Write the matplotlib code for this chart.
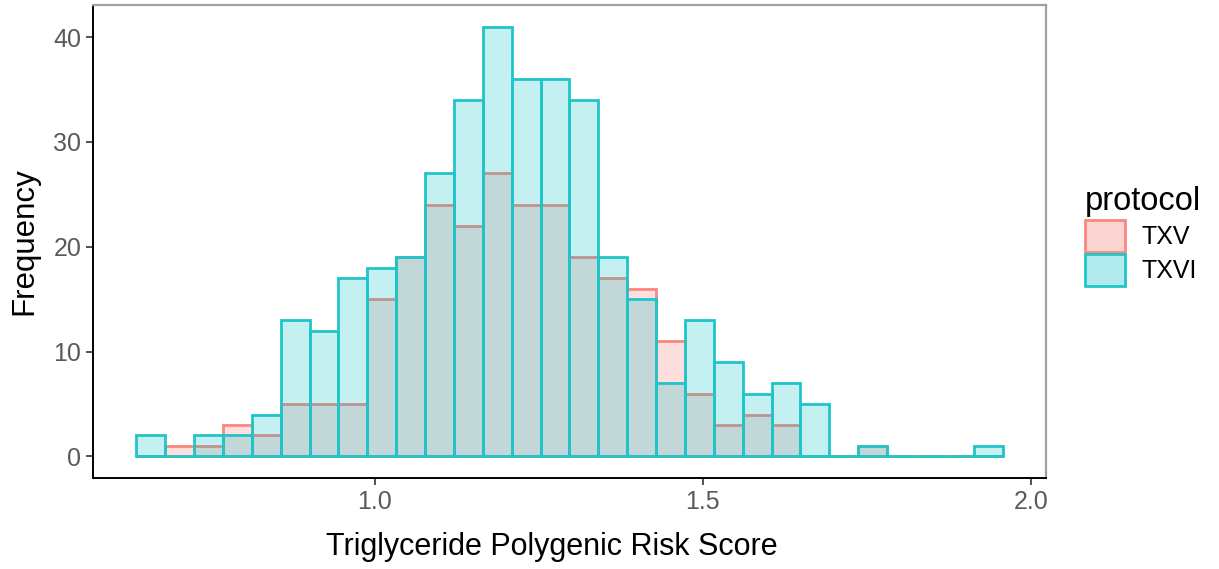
import matplotlib.pyplot as plt
import numpy as np
from matplotlib.patches import Patch
from matplotlib.colors import to_rgba

plt.rcParams['font.family'] = ['Liberation Sans', 'DejaVu Sans']

# histogram bins (30 bins, ggplot default)
bin_start = 0.637
bin_width = 0.044
txv_counts = [0, 1, 1, 3, 2, 5, 5, 5, 15, 19, 24, 22, 27, 24, 24, 19, 17, 16,
              11, 6, 3, 4, 3, 0, 0, 1, 0, 0, 0, 0]
txvi_counts = [2, 0, 2, 2, 4, 13, 12, 17, 18, 19, 27, 34, 41, 36, 36, 34, 19, 15,
               7, 13, 9, 6, 7, 5, 0, 1, 0, 0, 0, 1]
groups = ['TXV', 'TXVI']
colors = ['#F8766D', '#00BFC4']
edge_colors = ['#F98880', '#1FC5C9']
xticks = [1.0, 1.5, 2.0]
yticks = [0, 10, 20, 30, 40]

n_bins = len(txv_counts)
centers = bin_start + bin_width * (np.arange(n_bins) + 0.5)

fig = plt.figure(figsize=(12.19, 5.69), dpi=100)
ax = fig.add_axes([0.0763, 0.160, 0.7817, 0.831])

for counts, col, ec in zip([txv_counts, txvi_counts], colors, edge_colors):
    ax.bar(centers, counts, width=bin_width, facecolor=to_rgba(col, 0.23),
           edgecolor=ec, linewidth=2.0)

lo = bin_start
hi = bin_start + bin_width * n_bins
pad = (hi - lo) * 0.05
ax.set_xlim(lo - pad, hi + pad)
top = max(max(txv_counts), max(txvi_counts))
ax.set_ylim(-top * 0.05, top * 1.05)

ax.set_xticks(xticks)
ax.set_xticklabels([f'{t:.1f}' for t in xticks])
ax.set_yticks(yticks)
ax.tick_params(axis='both', labelsize=18, labelcolor='#5A5A5A', color='#333333',
               length=5, width=1.2)
ax.set_xlabel('Triglyceride Polygenic Risk Score', fontsize=22)
ax.xaxis.set_label_coords(0.482, -0.115)
ax.set_ylabel('Frequency', fontsize=22.5, labelpad=10)

for side in ['left', 'bottom']:
    ax.spines[side].set_color('black')
    ax.spines[side].set_linewidth(1.4)
for side in ['top', 'right']:
    ax.spines[side].set_color('#A0A0A0')
    ax.spines[side].set_linewidth(1.6)

handles = [Patch(facecolor=to_rgba(c, 0.3), edgecolor=ec, linewidth=2.0)
           for c, ec in zip(colors, edge_colors)]
leg = fig.legend(handles, groups, title='protocol', loc='upper left',
                 bbox_to_anchor=(1085 / 1219, 1 - 186 / 569), frameon=False,
                 fontsize=18, title_fontsize=23.5, handlelength=1.6,
                 handleheight=1.6, labelspacing=0.1, handletextpad=0.65,
                 borderaxespad=0, borderpad=0)
leg._legend_box.align = 'left'

fig.savefig('out.png', dpi=100)
